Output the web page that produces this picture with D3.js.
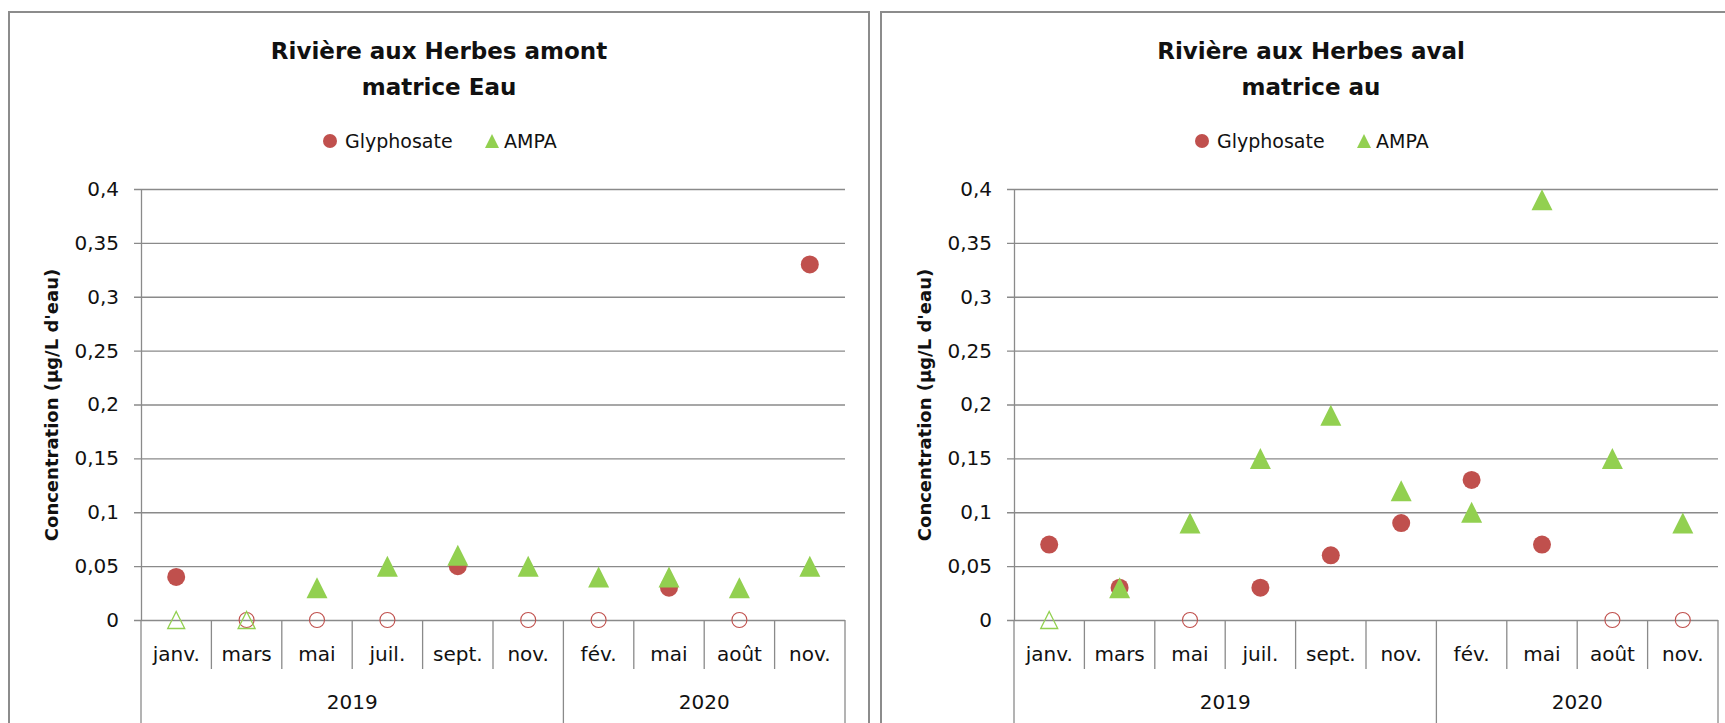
<!DOCTYPE html>
<html>
<head>
<meta charset="utf-8">
<script src="https://cdn.jsdelivr.net/npm/d3@7"></script>
<style>
  body { margin: 0; background: #fff; }
  svg text { font-family: "Comic Sans MS", "DejaVu Sans", sans-serif; fill: #111; }
</style>
</head>
<body>
<div id="chart"></div>
<script>
// months sampled (two years)
var months = ["janv.", "mars", "mai", "juil.", "sept.", "nov.", "fév.", "mai", "août", "nov."];
var yearLabels = ["2019", "2020"];
var yearStart = [0, 6];
var yearEnd = [6, 10];

// concentrations, 0 = below detection (open marker)
var amontGlyphosate = [0.04, 0, 0, 0, 0.05, 0, 0, 0.03, 0, 0.33];
var amontAmpa = [0, 0, 0.03, 0.05, 0.06, 0.05, 0.04, 0.04, 0.03, 0.05];
var avalGlyphosate = [0.07, 0.03, 0, 0.03, 0.06, 0.09, 0.13, 0.07, 0, 0];
var avalAmpa = [0, 0.03, 0.09, 0.15, 0.19, 0.12, 0.10, 0.39, 0.15, 0.09];

var yTicks = [0, 0.05, 0.1, 0.15, 0.2, 0.25, 0.3, 0.35, 0.4];

var red = "#C0504D";
var green = "#92D050";
var gridColor = "#8a8a8a";

var svgWidth = 1725;
var svgHeight = 723;

var svg = d3.select("#chart")
  .append("svg")
  .attr("width", svgWidth)
  .attr("height", svgHeight);

var fr = d3.formatLocale({ decimal: ",", thousands: " ", grouping: [3], currency: ["", "€"] });
var fmt = fr.format("~g");

var triangle = d3.symbol().type(d3.symbolTriangle);

function triPath(w) {
  // triangle with bbox w x w centred on 0,0
  var h = w / 2;
  return "M0," + (-h) + "L" + h + "," + h + "L" + (-h) + "," + h + "Z";
}

function drawChart(frameX, plotLeft, title1, title2, glyph, ampa) {
  var frameW = 860;
  var cx = frameX + frameW / 2;
  var plotW = 704;
  var top = 189, bottom = 620;

  var g = svg.append("g");

  // frame
  g.append("rect")
    .attr("x", frameX)
    .attr("y", 12)
    .attr("width", frameW)
    .attr("height", 760)
    .attr("fill", "none")
    .attr("stroke", "#8c8c8c")
    .attr("stroke-width", 2);

  // title
  g.append("text")
    .attr("x", cx).attr("y", 59)
    .attr("text-anchor", "middle")
    .attr("font-size", "23px").attr("font-weight", "bold")
    .text(title1);
  g.append("text")
    .attr("x", cx).attr("y", 95)
    .attr("text-anchor", "middle")
    .attr("font-size", "23px").attr("font-weight", "bold")
    .text(title2);

  // legend
  var leg = g.append("g").attr("transform", "translate(" + cx + ",0)");
  leg.append("circle").attr("cx", -109).attr("cy", 141).attr("r", 7).attr("fill", red);
  leg.append("text").attr("x", -94).attr("y", 148).attr("font-size", "19px").text("Glyphosate");
  leg.append("path").attr("d", triPath(14)).attr("transform", "translate(53,141)").attr("fill", green);
  leg.append("text").attr("x", 65).attr("y", 148).attr("font-size", "19px").text("AMPA");

  // scales
  var x = d3.scaleBand()
    .domain(d3.range(months.length))
    .range([plotLeft, plotLeft + plotW]);

  var y = d3.scaleLinear()
    .domain([0, 0.4])
    .range([bottom, top]);

  // gridlines
  g.append("g")
    .attr("transform", "translate(" + (plotLeft - 7) + ",0)")
    .call(d3.axisRight(y).tickValues(yTicks).tickSize(plotW + 7).tickFormat(""))
    .call(function(s) {
      s.select(".domain").remove();
      s.selectAll("line").attr("stroke", gridColor).attr("stroke-width", 1.3);
    });

  // y axis
  g.append("g")
    .attr("transform", "translate(" + plotLeft + ",0)")
    .call(d3.axisLeft(y).tickValues(yTicks).tickSize(0).tickPadding(22).tickFormat(fmt))
    .call(function(s) {
      s.select(".domain").attr("stroke", gridColor).attr("stroke-width", 1.3);
      s.selectAll("text").attr("font-size", "20px").attr("font-family", null).attr("fill", "#111");
    });

  // y label
  g.append("text")
    .attr("transform", "translate(" + (plotLeft - 83) + "," + 405 + ") rotate(-90)")
    .attr("text-anchor", "middle")
    .attr("font-size", "18px").attr("font-weight", "bold")
    .text("Concentration (µg/L d'eau)");

  // x axis labels
  g.append("g")
    .attr("transform", "translate(0," + bottom + ")")
    .call(d3.axisBottom(x).tickSize(0).tickPadding(27).tickFormat(function(i) { return months[i]; }))
    .call(function(s) {
      s.select(".domain").remove();
      s.selectAll("text").attr("font-size", "20px").attr("font-family", null).attr("fill", "#111");
    });

  // category separators
  var bounds = d3.range(months.length + 1);
  g.selectAll(".sep")
    .data(bounds)
    .enter()
    .append("line")
    .attr("x1", function(i) { return i < months.length ? x(i) : x(months.length - 1) + x.bandwidth(); })
    .attr("x2", function(i) { return i < months.length ? x(i) : x(months.length - 1) + x.bandwidth(); })
    .attr("y1", bottom)
    .attr("y2", function(i) { return (yearStart.indexOf(i) >= 0 || i === months.length) ? 730 : bottom + 49; })
    .attr("stroke", gridColor)
    .attr("stroke-width", 1.3);

  // year labels
  g.selectAll(".year")
    .data(yearLabels)
    .enter()
    .append("text")
    .attr("x", function(d, i) {
      var a = x(yearStart[i]);
      var b = x(yearEnd[i] - 1) + x.bandwidth();
      return (a + b) / 2;
    })
    .attr("y", 709)
    .attr("text-anchor", "middle")
    .attr("font-size", "20px")
    .text(function(d) { return d; });

  var cxOf = function(d, i) { return x(i) + x.bandwidth() / 2; };

  // glyphosate
  g.selectAll(".glyph")
    .data(glyph)
    .enter()
    .append("circle")
    .attr("cx", cxOf)
    .attr("cy", function(d) { return y(d); })
    .attr("r", function(d) { return d > 0 ? 9 : 7.5; })
    .attr("fill", function(d) { return d > 0 ? red : "none"; })
    .attr("stroke", function(d) { return d > 0 ? "none" : red; })
    .attr("stroke-width", 1.1);

  // AMPA
  g.selectAll(".ampa")
    .data(ampa)
    .enter()
    .append("path")
    .attr("d", function(d) { return d > 0 ? triPath(21) : triPath(17); })
    .attr("transform", function(d, i) { return "translate(" + cxOf(d, i) + "," + y(d) + ")"; })
    .attr("fill", function(d) { return d > 0 ? green : "none"; })
    .attr("stroke", function(d) { return d > 0 ? "none" : green; })
    .attr("stroke-width", 1.3);
}

drawChart(9, 141, "Rivière aux Herbes amont", "matrice Eau", amontGlyphosate, amontAmpa);
drawChart(881, 1014, "Rivière aux Herbes aval", "matrice au", avalGlyphosate, avalAmpa);
</script>
</body>
</html>
